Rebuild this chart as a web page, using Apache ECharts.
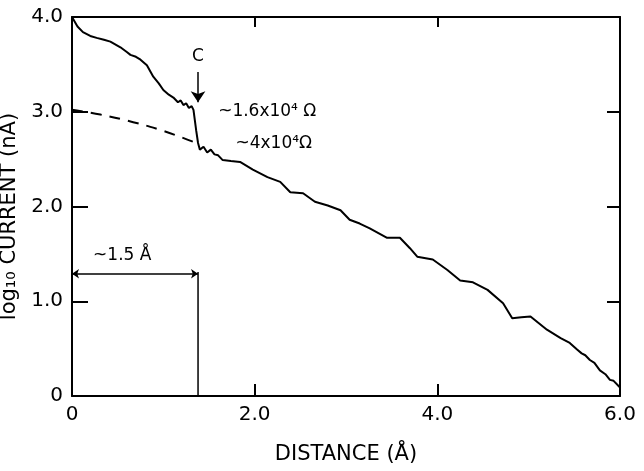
<!DOCTYPE html>
<html>
<head>
<meta charset="utf-8">
<script src="https://cdn.jsdelivr.net/npm/echarts@6/dist/echarts.min.js"></script>
<style>
  html, body { margin: 0; padding: 0; background: #fff; }
  #chart { width: 644px; height: 471px; }
</style>
</head>
<body>
<div id="chart"></div>
<script>
// measured curve: [distance (Å), log10 current (nA)]
const current = [
  [0, 4.0], [0.06, 3.9], [0.12, 3.84], [0.2, 3.8], [0.27, 3.78], [0.35, 3.76], [0.42, 3.74],
  [0.53, 3.68], [0.6, 3.63], [0.64, 3.6], [0.7, 3.58], [0.75, 3.55], [0.82, 3.49],
  [0.89, 3.37], [0.95, 3.3], [1.0, 3.23], [1.06, 3.18], [1.11, 3.15], [1.16, 3.1],
  [1.19, 3.12], [1.22, 3.07], [1.25, 3.09], [1.28, 3.04], [1.31, 3.06], [1.33, 3.02],
  [1.36, 2.8], [1.38, 2.67], [1.4, 2.6], [1.44, 2.63], [1.48, 2.57], [1.52, 2.6],
  [1.56, 2.55], [1.6, 2.54], [1.65, 2.49], [1.74, 2.48], [1.84, 2.47], [1.98, 2.39],
  [2.14, 2.31], [2.28, 2.26], [2.39, 2.15], [2.53, 2.14], [2.66, 2.05], [2.8, 2.01],
  [2.94, 1.96], [3.04, 1.86], [3.15, 1.82], [3.26, 1.77], [3.45, 1.67], [3.59, 1.67],
  [3.7, 1.56], [3.78, 1.47], [3.95, 1.44], [4.11, 1.33], [4.25, 1.22], [4.39, 1.2],
  [4.55, 1.12], [4.72, 0.98], [4.82, 0.82], [4.92, 0.83], [5.02, 0.84], [5.2, 0.7],
  [5.35, 0.61], [5.45, 0.56], [5.53, 0.49], [5.58, 0.45], [5.62, 0.43], [5.67, 0.38],
  [5.72, 0.35], [5.78, 0.27], [5.84, 0.23], [5.89, 0.17], [5.93, 0.16], [6.0, 0.09]
];
// extrapolated (dashed) curve
const extrapolated = [[0, 3.02], [0.31, 2.97], [0.67, 2.89], [0.96, 2.81], [1.2, 2.73], [1.36, 2.67]];
// ~1.5 Å bracket and its vertical marker
const bracket = [[0, 1.29], [1.38, 1.29]];
const marker = [[1.38, 0], [1.38, 1.31]];
const arrowC = [[1.38, 3.42], [1.38, 3.1]];
// text notes: [x, y, text, anchor]
const notes = [
  [1.38, 3.58, 'C', 'center'],
  [1.6, 3.0, '~1.6x10\u2074 \u03a9', 'left'],
  [1.79, 2.66, '~4x10\u2074\u03a9', 'left'],
  [0.55, 1.48, '~1.5 \u00c5', 'center']
];
const xTicks = { min: 0, max: 6, interval: 2 };
const yTicks = { min: 0, max: 4, interval: 1 };

const ink = '#000';
const font = 'DejaVu Sans';
const fmt = v => (v === 0 ? '0' : v.toFixed(1));
const axisLine = { show: true, onZero: false, lineStyle: { color: ink, width: 2 } };
const tick = len => ({ show: true, inside: true, length: len, lineStyle: { color: ink, width: 2 } });
const noteStyle = { show: true, color: ink, fontSize: 17, fontFamily: font };

const chart = echarts.init(document.getElementById('chart'));
chart.setOption({
  animation: false,
  grid: { left: 72, right: 24, top: 17, bottom: 75, outerBoundsMode: 'none' },
  textStyle: { fontFamily: font },
  xAxis: [
    {
      type: 'value', ...xTicks, position: 'bottom',
      axisLine, axisTick: tick(12), splitLine: { show: false },
      axisLabel: { formatter: fmt, color: ink, fontSize: 20, margin: 9, fontFamily: font },
      name: 'DISTANCE (\u00c5)', nameLocation: 'middle', nameGap: 48,
      nameTextStyle: { color: ink, fontSize: 21, fontFamily: font }
    },
    {
      type: 'value', ...xTicks, position: 'top',
      axisLine, axisTick: tick(10), splitLine: { show: false }, axisLabel: { show: false }
    }
  ],
  yAxis: [
    {
      type: 'value', ...yTicks, position: 'left',
      axisLine, axisTick: tick(16), splitLine: { show: false },
      axisLabel: { formatter: fmt, color: ink, fontSize: 20, margin: 9, fontFamily: font },
      name: 'log\u2081\u2080 CURRENT (nA)', nameLocation: 'middle', nameGap: 51,
      nameTextStyle: { color: ink, fontSize: 21, fontFamily: font, padding: [0, 20, 0, 0] }
    },
    {
      type: 'value', ...yTicks, position: 'right',
      axisLine, axisTick: tick(13), splitLine: { show: false }, axisLabel: { show: false }
    }
  ],
  series: [
    {
      type: 'line', data: current, symbol: 'none',
      lineStyle: { color: ink, width: 2 }
    },
    {
      type: 'line', data: extrapolated, symbol: 'none', smooth: true,
      lineStyle: { color: ink, width: 2, type: [11, 8] }
    },
    {
      type: 'line', data: marker, symbol: 'none',
      lineStyle: { color: ink, width: 1.5 }
    },
    {
      type: 'line', data: [], symbol: 'none',
      markLine: {
        silent: true,
        label: { show: false },
        lineStyle: { color: ink, width: 1.5, type: 'solid' },
        symbol: ['arrow', 'arrow'],
        symbolSize: 7,
        data: [[{ coord: bracket[0] }, { coord: bracket[1] }]]
      }
    },
    {
      type: 'line', data: [], symbol: 'none',
      markLine: {
        silent: true,
        label: { show: false },
        lineStyle: { color: ink, width: 1.5, type: 'solid' },
        symbol: ['none', 'arrow'],
        symbolSize: 11,
        data: [[{ coord: arrowC[0] }, { coord: arrowC[1] }]]
      }
    },
    {
      type: 'scatter', symbolSize: 0, silent: true,
      itemStyle: { color: ink, opacity: 1 },
      data: notes.map(n => ({
        value: [n[0], n[1]], name: n[2],
        label: n[3] === 'left'
          ? { ...noteStyle, position: 'right', distance: 0 }
          : { ...noteStyle, position: 'inside' }
      })),
      label: { ...noteStyle, formatter: p => p.name }
    }
  ]
});
</script>
</body>
</html>
